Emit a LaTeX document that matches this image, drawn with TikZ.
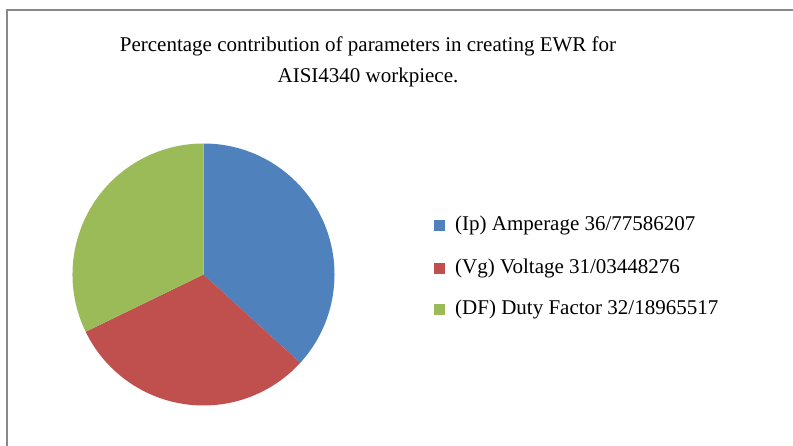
\documentclass[tikz,border=0pt]{standalone}
\usepackage{fontspec}
\setmainfont{Liberation Serif}
\definecolor{sliceblue}{HTML}{4F81BD}
\definecolor{slicered}{HTML}{C0504D}
\definecolor{slicegreen}{HTML}{9BBB59}
\definecolor{framegray}{HTML}{898989}
\begin{document}
\begin{tikzpicture}[x=1pt,y=-1pt,
  titletext/.style={anchor=base,inner sep=0pt,font=\fontsize{21}{25}\selectfont},
  legtext/.style={anchor=base west,inner sep=0pt,font=\fontsize{21}{25}\selectfont},
  legkey/.style={minimum size=11pt,inner sep=0pt,anchor=center}]
\useasboundingbox (0,0) rectangle (793,446);
% chart frame (top and left edges)
\draw[framegray,line width=2pt] (7,447) -- (7,10) -- (794,10);
% title
\node[titletext] (t1) at (368,52) {Percentage contribution of parameters in creating EWR for};
\node[titletext] (t2) at (368,83) {AISI4340 workpiece.};
% pie slices, clockwise from the top (y axis points down, so angles grow clockwise)
\coordinate (c) at (203.5,274.5);
\def\R{131}
\fill[sliceblue] (c) -- ++(-90:\R) arc[start angle=-90,end angle=42.4,radius=\R] -- cycle;
\fill[slicered] (c) -- ++(42.4:\R) arc[start angle=42.4,end angle=154.1,radius=\R] -- cycle;
\fill[slicegreen] (c) -- ++(154.1:\R) arc[start angle=154.1,end angle=270,radius=\R] -- cycle;
% legend
\node[legkey,fill=sliceblue] (k1) at (439.5,225.5) {};
\node[legkey,fill=slicered] (k2) at (439.5,268.5) {};
\node[legkey,fill=slicegreen] (k3) at (439.5,309.5) {};
\node[legtext] (l1) at (455,231) {(Ip) Amperage 36/77586207};
\node[legtext] (l2) at (455,274) {(Vg) Voltage 31/03448276};
\node[legtext] (l3) at (455,315) {(DF) Duty Factor 32/18965517};
\end{tikzpicture}
\end{document}
